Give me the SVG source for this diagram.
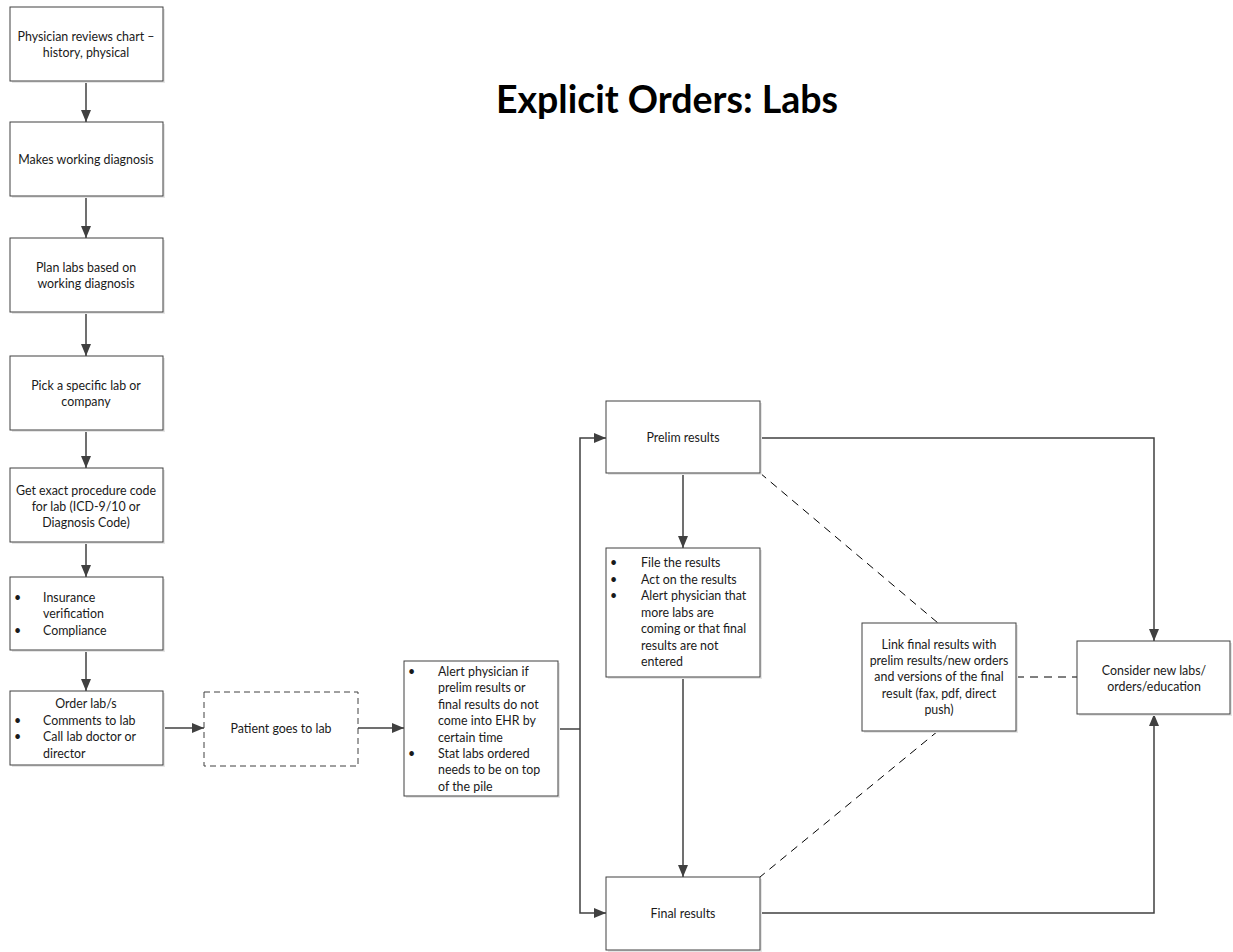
<svg xmlns="http://www.w3.org/2000/svg" width="1233" height="952" viewBox="0 0 1233 952">
  <style>
    .box { fill: #ffffff; stroke: #404040; stroke-width: 1; }
    .shadow { fill: #e6e6e6; }
    .dashbox { fill: #ffffff; stroke: #404040; stroke-width: 1; stroke-dasharray: 6 4; }
    .t { font-family: Lato, "Liberation Sans", sans-serif; font-size: 12.4px; fill: #1a1a1a; }
    .c { text-anchor: middle; }
    .title { font-family: Lato, "Liberation Sans", sans-serif; font-size: 37.5px; font-weight: bold; fill: #000000; text-anchor: middle; }
    .link { fill: none; stroke: #404040; stroke-width: 1.5; }
    .dash { fill: none; stroke: #000000; stroke-width: 1; stroke-dasharray: 8 6; }
  </style>
  <defs>
    <marker id="arrowL" viewBox="0 0 12 10" refX="12" refY="5" markerWidth="12" markerHeight="10" markerUnits="userSpaceOnUse" orient="auto">
      <path d="M0,0 L12,5 L0,10 Z" fill="#404040"/>
    </marker>
  </defs>
  <rect width="1233" height="952" fill="#ffffff"/>

  <text class="title" x="667" y="113">Explicit Orders: Labs</text>

  <!-- connectors -->
  <g id="connectors">
    <line class="link" x1="86" y1="81" x2="86" y2="122" marker-end="url(#arrowL)"/>
    <line class="link" x1="86" y1="196" x2="86" y2="238" marker-end="url(#arrowL)"/>
    <line class="link" x1="86" y1="312" x2="86" y2="356" marker-end="url(#arrowL)"/>
    <line class="link" x1="86" y1="430" x2="86" y2="468" marker-end="url(#arrowL)"/>
    <line class="link" x1="86" y1="542" x2="86" y2="577" marker-end="url(#arrowL)"/>
    <line class="link" x1="86" y1="650" x2="86" y2="691" marker-end="url(#arrowL)"/>
    <line class="link" x1="163" y1="728" x2="204" y2="728" marker-end="url(#arrowL)"/>
    <line class="link" x1="358" y1="728" x2="404" y2="728" marker-end="url(#arrowL)"/>
    <polyline class="link" points="558,729 580,729"/>
    <polyline class="link" points="580,729 580,438 606,438" marker-end="url(#arrowL)"/>
    <polyline class="link" points="580,729 580,913 606,913" marker-end="url(#arrowL)"/>
    <line class="link" x1="683" y1="473" x2="683" y2="548" marker-end="url(#arrowL)"/>
    <line class="link" x1="683" y1="677" x2="683" y2="877" marker-end="url(#arrowL)"/>
    <polyline class="link" points="760,438 1154,438 1154,641" marker-end="url(#arrowL)"/>
    <polyline class="link" points="760,913 1154,913 1154,714" marker-end="url(#arrowL)"/>
    <line class="dash" x1="760" y1="473" x2="938" y2="623"/>
    <line class="dash" x1="938" y1="731" x2="760" y2="877"/>
    <line class="dash" x1="1016" y1="677" x2="1077" y2="677"/>
  </g>

  <!-- left column -->
  <g id="review-chart">
    <rect class="shadow" x="12" y="9" width="153" height="74"/>
    <rect class="box" x="10" y="7" width="153" height="74"/>
    <text class="t c" x="86" y="41">Physician reviews chart –</text>
    <text class="t c" x="86" y="57">history, physical</text>
  </g>
  <g id="working-diagnosis">
    <rect class="shadow" x="12" y="124" width="153" height="74"/>
    <rect class="box" x="10" y="122" width="153" height="74"/>
    <text class="t c" x="86" y="164">Makes working diagnosis</text>
  </g>
  <g id="plan-labs">
    <rect class="shadow" x="12" y="240" width="153" height="74"/>
    <rect class="box" x="10" y="238" width="153" height="74"/>
    <text class="t c" x="86" y="272">Plan labs based on</text>
    <text class="t c" x="86" y="288">working diagnosis</text>
  </g>
  <g id="pick-lab">
    <rect class="shadow" x="12" y="358" width="153" height="74"/>
    <rect class="box" x="10" y="356" width="153" height="74"/>
    <text class="t c" x="86" y="390">Pick a specific lab or</text>
    <text class="t c" x="86" y="406">company</text>
  </g>
  <g id="procedure-code">
    <rect class="shadow" x="12" y="470" width="153" height="74"/>
    <rect class="box" x="10" y="468" width="153" height="74"/>
    <text class="t c" x="86" y="495">Get exact procedure code</text>
    <text class="t c" x="86" y="511">for lab (ICD-9/10 or</text>
    <text class="t c" x="86" y="527">Diagnosis Code)</text>
  </g>
  <g id="insurance">
    <rect class="shadow" x="12" y="579" width="153" height="73"/>
    <rect class="box" x="10" y="577" width="153" height="73"/>
    <text class="t" x="14" y="602">•</text>
    <text class="t" x="43" y="602">Insurance</text>
    <text class="t" x="43" y="618">verification</text>
    <text class="t" x="14" y="635">•</text>
    <text class="t" x="43" y="635">Compliance</text>
  </g>
  <g id="order-labs">
    <rect class="shadow" x="12" y="693" width="153" height="74"/>
    <rect class="box" x="10" y="691" width="153" height="74"/>
    <text class="t c" x="86" y="708">Order lab/s</text>
    <text class="t" x="14" y="725">•</text>
    <text class="t" x="43" y="725">Comments to lab</text>
    <text class="t" x="14" y="741">•</text>
    <text class="t" x="43" y="741">Call lab doctor or</text>
    <text class="t" x="43" y="758">director</text>
  </g>

  <g id="patient-lab">
    <rect class="dashbox" x="204" y="692" width="154" height="74"/>
    <text class="t c" x="281" y="733">Patient goes to lab</text>
  </g>

  <g id="alert-box">
    <rect class="shadow" x="406" y="663" width="154" height="135"/>
    <rect class="box" x="404" y="661" width="154" height="135"/>
    <text class="t" x="408" y="676">•</text>
    <text class="t" x="438" y="676">Alert physician if</text>
    <text class="t" x="438" y="692">prelim results or</text>
    <text class="t" x="438" y="709">final results do not</text>
    <text class="t" x="438" y="725">come into EHR by</text>
    <text class="t" x="438" y="742">certain time</text>
    <text class="t" x="408" y="758">•</text>
    <text class="t" x="438" y="758">Stat labs ordered</text>
    <text class="t" x="438" y="774">needs to be on top</text>
    <text class="t" x="438" y="791">of the pile</text>
  </g>

  <g id="prelim-results">
    <rect class="shadow" x="608" y="403" width="154" height="72"/>
    <rect class="box" x="606" y="401" width="154" height="72"/>
    <text class="t c" x="683" y="442">Prelim results</text>
  </g>

  <g id="file-results">
    <rect class="shadow" x="608" y="550" width="154" height="129"/>
    <rect class="box" x="606" y="548" width="154" height="129"/>
    <text class="t" x="610" y="567">•</text>
    <text class="t" x="641" y="567">File the results</text>
    <text class="t" x="610" y="584">•</text>
    <text class="t" x="641" y="584">Act on the results</text>
    <text class="t" x="610" y="600">•</text>
    <text class="t" x="641" y="600">Alert physician that</text>
    <text class="t" x="641" y="617">more labs are</text>
    <text class="t" x="641" y="633">coming or that final</text>
    <text class="t" x="641" y="650">results are not</text>
    <text class="t" x="641" y="666">entered</text>
  </g>

  <g id="final-results">
    <rect class="shadow" x="608" y="879" width="154" height="73"/>
    <rect class="box" x="606" y="877" width="154" height="73"/>
    <text class="t c" x="683" y="918">Final results</text>
  </g>

  <g id="link-results">
    <rect class="shadow" x="864" y="625" width="154" height="108"/>
    <rect class="box" x="862" y="623" width="154" height="108"/>
    <text class="t c" x="939" y="649">Link final results with</text>
    <text class="t c" x="939" y="665">prelim results/new orders</text>
    <text class="t c" x="939" y="681">and versions of the final</text>
    <text class="t c" x="939" y="698">result (fax, pdf, direct</text>
    <text class="t c" x="939" y="714">push)</text>
  </g>

  <g id="consider-new">
    <rect class="shadow" x="1079" y="643" width="153" height="73"/>
    <rect class="box" x="1077" y="641" width="153" height="73"/>
    <text class="t c" x="1154" y="675">Consider new labs/</text>
    <text class="t c" x="1154" y="691">orders/education</text>
  </g>
</svg>
